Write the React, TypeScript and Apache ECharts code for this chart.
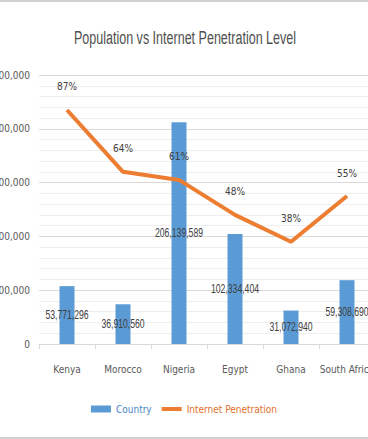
import React, { useEffect, useRef } from "react";
import * as echarts from "echarts";

const categories = ["Kenya", "Morocco", "Nigeria", "Egypt", "Ghana", "South Africa"];
const population = [53771296, 36910560, 206139589, 102334404, 31072940, 59308690];
const penetration = [0.87, 0.64, 0.61, 0.48, 0.38, 0.55];
const titleText = "Population vs Internet Penetration Level";

const FONT = "'DejaVu Sans Condensed', 'Liberation Sans', sans-serif";

export default function App() {
  const ref = useRef<HTMLDivElement>(null);
  useEffect(() => {
    if (!ref.current) return;
    const chart = echarts.init(ref.current, undefined, { renderer: "svg" });
    chart.setOption({
      animation: false,
      backgroundColor: "#ffffff",
      graphic: [
        {
          type: "text",
          x: 185,
          y: 35,
          scaleX: 0.66,
          style: {
            text: titleText,
            font: "19px 'Liberation Sans', sans-serif",
            fill: "#505050",
            align: "center",
            verticalAlign: "middle",
          },
        },
      ],
      legend: {
        bottom: 18,
        left: "center",
        itemWidth: 20,
        itemHeight: 7,
        itemGap: 10,
        textStyle: { fontFamily: FONT, fontSize: 10 },
        data: [
          { name: "Country", icon: "rect", textStyle: { color: "#4a86c8" } },
          {
            name: "Internet Penetration",
            icon: "path://M0,0h20v4h-20z",
            textStyle: { color: "#e0702a" },
          },
        ],
      },
      grid: { left: 39, right: -7, top: 73, bottom: 93, containLabel: false, outerBoundsMode: "none" },
      xAxis: {
        type: "category",
        data: categories,
        axisLine: { lineStyle: { color: "#d9d9d9" } },
        axisTick: { show: true, alignWithLabel: false, length: 5, lineStyle: { color: "#d9d9d9" } },
        axisLabel: { fontFamily: FONT, fontSize: 10, color: "#595959", margin: 20, interval: 0 },
      },
      yAxis: [
        {
          type: "value",
          min: 0,
          max: 250000000,
          interval: 50000000,
          axisLine: { show: false },
          axisTick: { show: false },
          axisLabel: {
            fontFamily: FONT,
            fontSize: 10,
            color: "#595959",
            margin: 9,
            formatter: (v: number) => v.toLocaleString("en-US"),
          },
          splitLine: { lineStyle: { color: "#d9d9d9" } },
          minorTick: { show: false, splitNumber: 5 },
          minorSplitLine: { show: true, lineStyle: { color: "#eeeeee" } },
        },
        {
          type: "value",
          min: 0,
          max: 1,
          show: false,
          splitLine: { show: false },
        },
      ],
      series: [
        {
          name: "Country",
          type: "bar",
          data: population,
          barWidth: 15,
          itemStyle: { color: "#5b9bd5" },
        },
        {
          name: "Internet Penetration",
          type: "line",
          yAxisIndex: 1,
          data: penetration,
          symbol: "circle",
          symbolSize: 0,
          lineStyle: { color: "#ed7d31", width: 4 },
          itemStyle: { color: "#ed7d31" },
          label: {
            show: true,
            position: "top",
            distance: 18,
            fontFamily: FONT,
            fontSize: 10,
            color: "#404040",
            formatter: (p: any) => Math.round(p.value * 100) + "%",
          },
        },
        {
          name: "Country labels",
          type: "custom",
          data: population.map((v, i) => [i, v]),
          encode: { x: 0, y: 1 },
          silent: true,
          z: 5,
          renderItem: (params: any, api: any) => {
            const v = api.value(1);
            const p = api.coord([api.value(0), v / 2]);
            return {
              type: "text",
              x: p[0],
              y: p[1],
              scaleX: 0.72,
              style: {
                text: Number(v).toLocaleString("en-US"),
                font: "12px 'Liberation Sans', sans-serif",
                fill: "#404040",
                align: "center",
                verticalAlign: "middle",
              },
            };
          },
        },
      ],
    });
    return () => chart.dispose();
  }, []);
  return (
    <div
      ref={ref}
      style={{ position: "fixed", left: 0, top: 0, width: 368, height: 439, borderTop: "2px solid #d0d0d0", borderBottom: "2px solid #d0d0d0", boxSizing: "border-box" }}
    />
  );
}
